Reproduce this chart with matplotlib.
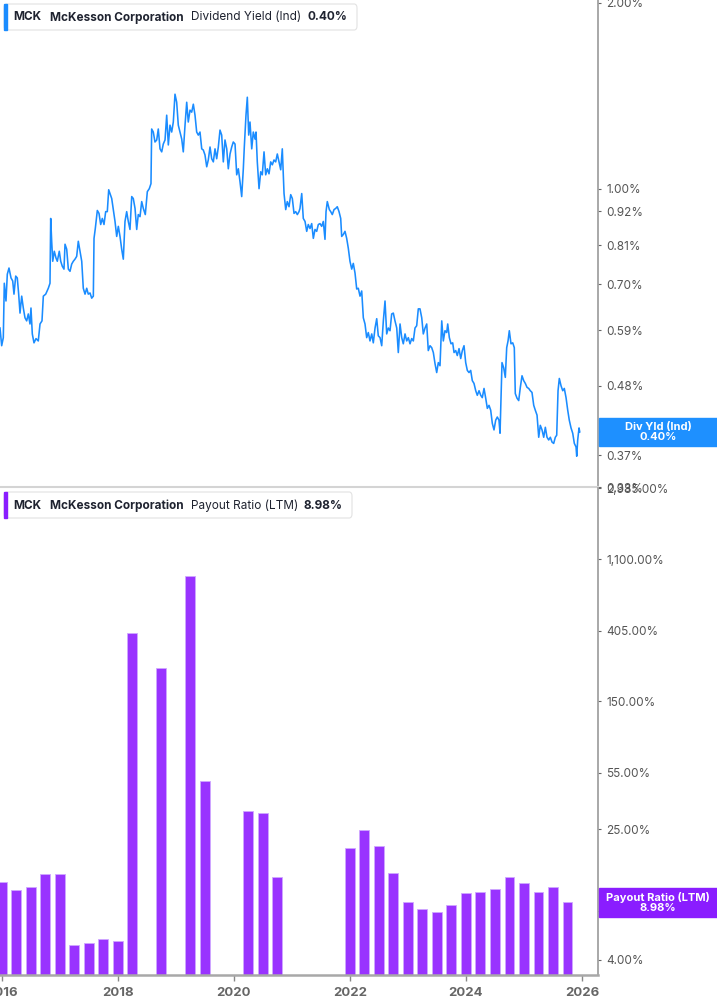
import matplotlib
matplotlib.use("Agg")
import matplotlib.pyplot as plt
import numpy as np
from matplotlib.patches import FancyBboxPatch, Rectangle
from matplotlib.ticker import FixedLocator, FixedFormatter, NullLocator

plt.rcParams['font.family'] = ['Inter', 'DejaVu Sans']

W, H = 717, 1005

# Dividend yield (Ind), % -- dates as decimal years
div_dates = [
    2015.966, 2015.995, 2016.023, 2016.040, 2016.069, 2016.092, 2016.121, 2016.156, 2016.185, 2016.207,
    2016.237, 2016.264, 2016.288, 2016.311, 2016.340, 2016.368, 2016.397, 2016.426, 2016.454, 2016.483,
    2016.500, 2016.523, 2016.552, 2016.587, 2016.626, 2016.656, 2016.690, 2016.713, 2016.754, 2016.799,
    2016.828, 2016.840, 2016.857, 2016.875, 2016.902, 2016.932, 2016.954, 2016.988, 2017.013, 2017.040,
    2017.069, 2017.087, 2017.116, 2017.144, 2017.173, 2017.202, 2017.230, 2017.259, 2017.288, 2017.316,
    2017.345, 2017.375, 2017.402, 2017.432, 2017.461, 2017.488, 2017.518, 2017.547, 2017.575, 2017.587,
    2017.609, 2017.644, 2017.673, 2017.702, 2017.730, 2017.759, 2017.788, 2017.816, 2017.840, 2017.863,
    2017.892, 2017.919, 2017.949, 2017.978, 2018.006, 2018.035, 2018.064, 2018.092, 2018.121, 2018.150,
    2018.178, 2018.207, 2018.237, 2018.264, 2018.294, 2018.323, 2018.350, 2018.380, 2018.409, 2018.437,
    2018.471, 2018.506, 2018.540, 2018.569, 2018.581, 2018.609, 2018.638, 2018.668, 2018.695, 2018.725,
    2018.754, 2018.781, 2018.811, 2018.840, 2018.868, 2018.897, 2018.926, 2018.954, 2018.983, 2019.012,
    2019.040, 2019.069, 2019.099, 2019.126, 2019.156, 2019.185, 2019.212, 2019.242, 2019.271, 2019.299,
    2019.328, 2019.357, 2019.385, 2019.414, 2019.444, 2019.471, 2019.500, 2019.530, 2019.557, 2019.587,
    2019.616, 2019.644, 2019.673, 2019.702, 2019.730, 2019.759, 2019.788, 2019.816, 2019.845, 2019.875,
    2019.902, 2019.932, 2019.961, 2019.988, 2020.018, 2020.047, 2020.075, 2020.104, 2020.133, 2020.161,
    2020.178, 2020.207, 2020.230, 2020.254, 2020.276, 2020.306, 2020.333, 2020.363, 2020.380, 2020.402,
    2020.432, 2020.461, 2020.488, 2020.518, 2020.547, 2020.575, 2020.604, 2020.633, 2020.661, 2020.690,
    2020.719, 2020.747, 2020.776, 2020.806, 2020.833, 2020.863, 2020.892, 2020.919, 2020.949, 2020.978,
    2021.006, 2021.035, 2021.064, 2021.092, 2021.121, 2021.138, 2021.168, 2021.195, 2021.225, 2021.254,
    2021.281, 2021.311, 2021.340, 2021.368, 2021.397, 2021.426, 2021.454, 2021.483, 2021.512, 2021.540,
    2021.569, 2021.587, 2021.609, 2021.644, 2021.668, 2021.695, 2021.725, 2021.754, 2021.781, 2021.811,
    2021.840, 2021.857, 2021.885, 2021.914, 2021.943, 2021.971, 2022.000, 2022.030, 2022.057, 2022.087,
    2022.116, 2022.143, 2022.173, 2022.202, 2022.230, 2022.259, 2022.288, 2022.316, 2022.345, 2022.375,
    2022.402, 2022.432, 2022.461, 2022.488, 2022.518, 2022.547, 2022.575, 2022.604, 2022.633, 2022.661,
    2022.690, 2022.719, 2022.747, 2022.776, 2022.806, 2022.833, 2022.863, 2022.892, 2022.919, 2022.949,
    2022.978, 2023.006, 2023.035, 2023.064, 2023.092, 2023.121, 2023.150, 2023.178, 2023.207, 2023.237,
    2023.264, 2023.294, 2023.323, 2023.350, 2023.380, 2023.409, 2023.437, 2023.466, 2023.495, 2023.523,
    2023.552, 2023.582, 2023.609, 2023.638, 2023.668, 2023.685, 2023.713, 2023.742, 2023.771, 2023.794,
    2023.823, 2023.850, 2023.880, 2023.909, 2023.937, 2023.966, 2023.995, 2024.023, 2024.052, 2024.081,
    2024.109, 2024.138, 2024.168, 2024.195, 2024.225, 2024.254, 2024.281, 2024.311, 2024.340, 2024.368,
    2024.397, 2024.426, 2024.454, 2024.483, 2024.512, 2024.540, 2024.569, 2024.587, 2024.604, 2024.621,
    2024.650, 2024.678, 2024.702, 2024.725, 2024.747, 2024.776, 2024.806, 2024.833, 2024.850, 2024.880,
    2024.909, 2024.937, 2024.966, 2024.995, 2025.023, 2025.052, 2025.081, 2025.109, 2025.138, 2025.168,
    2025.195, 2025.225, 2025.254, 2025.281, 2025.311, 2025.340, 2025.368, 2025.397, 2025.426, 2025.454,
    2025.483, 2025.512, 2025.540, 2025.564, 2025.587, 2025.609, 2025.638, 2025.668, 2025.695, 2025.725,
    2025.754, 2025.781, 2025.811, 2025.840, 2025.868, 2025.897, 2025.909, 2025.926, 2025.949, 2025.961,
]
div_yield = [
    0.595, 0.557, 0.574, 0.703, 0.658, 0.727, 0.744, 0.717, 0.709, 0.675,
    0.722, 0.717, 0.675, 0.629, 0.670, 0.641, 0.618, 0.611, 0.627, 0.604,
    0.641, 0.582, 0.563, 0.572, 0.567, 0.604, 0.611, 0.670, 0.675, 0.690,
    0.703, 0.895, 0.822, 0.763, 0.792, 0.772, 0.763, 0.792, 0.763, 0.749,
    0.741, 0.813, 0.798, 0.741, 0.735, 0.755, 0.763, 0.769, 0.777, 0.822,
    0.792, 0.763, 0.690, 0.675, 0.690, 0.675, 0.678, 0.665, 0.670, 0.831,
    0.862, 0.922, 0.912, 0.875, 0.895, 0.875, 0.918, 0.918, 0.996, 0.982,
    0.964, 0.925, 0.885, 0.837, 0.869, 0.837, 0.798, 0.769, 0.885, 0.918,
    0.885, 0.859, 0.971, 0.964, 0.929, 0.859, 0.908, 0.901, 0.953, 0.929,
    0.908, 0.989, 1.000, 1.019, 1.249, 1.235, 1.190, 1.199, 1.249, 1.160,
    1.147, 1.181, 1.199, 1.315, 1.177, 1.267, 1.235, 1.282, 1.422, 1.380,
    1.267, 1.235, 1.203, 1.147, 1.267, 1.380, 1.282, 1.340, 1.330, 1.370,
    1.315, 1.235, 1.221, 1.235, 1.160, 1.155, 1.134, 1.085, 1.113, 1.168,
    1.118, 1.105, 1.160, 1.118, 1.168, 1.244, 1.221, 1.105, 1.199, 1.160,
    1.077, 1.138, 1.168, 1.190, 1.181, 1.053, 1.077, 1.026, 0.971, 1.077,
    1.168, 1.315, 1.406, 1.221, 1.282, 1.160, 1.235, 1.203, 1.235, 1.105,
    1.000, 1.065, 1.053, 1.147, 1.053, 1.077, 1.057, 1.105, 1.093, 1.113,
    1.105, 1.138, 1.105, 1.073, 1.160, 0.982, 0.925, 0.953, 0.935, 0.978,
    0.964, 0.912, 0.918, 0.908, 0.918, 0.929, 0.982, 0.895, 0.885, 0.853,
    0.875, 0.862, 0.878, 0.831, 0.859, 0.853, 0.875, 0.878, 0.869, 0.885,
    0.828, 0.918, 0.953, 0.925, 0.918, 0.908, 0.925, 0.929, 0.935, 0.918,
    0.895, 0.837, 0.843, 0.853, 0.831, 0.801, 0.763, 0.741, 0.757, 0.730,
    0.688, 0.690, 0.670, 0.683, 0.618, 0.604, 0.574, 0.585, 0.567, 0.582,
    0.563, 0.595, 0.616, 0.578, 0.574, 0.557, 0.611, 0.658, 0.582, 0.595,
    0.589, 0.627, 0.629, 0.611, 0.595, 0.543, 0.604, 0.574, 0.561, 0.582,
    0.567, 0.574, 0.561, 0.572, 0.567, 0.595, 0.600, 0.639, 0.639, 0.618,
    0.582, 0.595, 0.604, 0.547, 0.557, 0.553, 0.543, 0.521, 0.504, 0.523,
    0.517, 0.611, 0.567, 0.589, 0.585, 0.604, 0.574, 0.561, 0.563, 0.543,
    0.547, 0.537, 0.551, 0.531, 0.547, 0.557, 0.523, 0.508, 0.504, 0.508,
    0.489, 0.484, 0.471, 0.463, 0.471, 0.463, 0.459, 0.475, 0.458, 0.441,
    0.446, 0.438, 0.417, 0.407, 0.422, 0.427, 0.422, 0.402, 0.459, 0.523,
    0.513, 0.495, 0.553, 0.567, 0.589, 0.561, 0.563, 0.553, 0.466, 0.458,
    0.454, 0.477, 0.498, 0.489, 0.484, 0.477, 0.475, 0.471, 0.468, 0.446,
    0.438, 0.430, 0.396, 0.414, 0.407, 0.396, 0.411, 0.396, 0.392, 0.396,
    0.389, 0.387, 0.396, 0.399, 0.471, 0.493, 0.480, 0.471, 0.475, 0.459,
    0.438, 0.422, 0.410, 0.402, 0.387, 0.382, 0.369, 0.392, 0.410, 0.404,
]

# Payout ratio (LTM), % per quarter; None = no bar shown
payout_dates = [
    2016.00, 2016.25, 2016.50, 2016.75, 2017.00, 2017.25, 2017.50, 2017.75,
    2018.00, 2018.25, 2018.50, 2018.75, 2019.00, 2019.25, 2019.50, 2019.75,
    2020.00, 2020.25, 2020.50, 2020.75, 2021.00, 2021.25, 2021.50, 2021.75,
    2022.00, 2022.25, 2022.50, 2022.75, 2023.00, 2023.25, 2023.50, 2023.75,
    2024.00, 2024.25, 2024.50, 2024.75, 2025.00, 2025.25, 2025.50, 2025.75,
]
payout_ratio = [
    12.0, 10.7, 11.2, 13.4, 13.4, 4.9, 5.1, 5.4,
    5.2, 390.0, None, 238.0, None, 868.0, 49.4, None,
    None, 32.4, 31.5, 12.8, None, None, None, None,
    19.3, 24.8, 19.8, 13.6, 9.0, 8.2, 7.85, 8.66,
    10.25, 10.4, 10.8, 12.8, 11.8, 10.4, 11.15, 8.98,
]

yield_ticks = [0.329, 0.37, 0.48, 0.59, 0.70, 0.81, 0.92, 1.00, 2.00]
payout_ticks = [4, 8, 25, 55, 150, 405, 1100, 2985]
year_ticks = [2016, 2018, 2020, 2022, 2024, 2026]

BLUE = '#1a8cff'
PURPLE = '#9933ff'
LABEL_PURPLE = '#8a1dff'
GREY_TXT = '#555555'


def fx(px):
    return px / W


def fy(py):
    return 1 - py / H


fig = plt.figure(figsize=(W / 100, H / 100), dpi=100)
fig.patch.set_facecolor('white')

xlim = (2015.966, 2026.276)

# ---- top panel: dividend yield line ----
ax1 = fig.add_axes([0, fy(487), 598 / W, 487 / H])
ax1.plot(div_dates, div_yield, color=BLUE, lw=1.15)
ax1.set_yscale('log')
ax1.set_ylim(0.329, 2.02)
ax1.set_xlim(*xlim)
ax1.yaxis.set_major_locator(FixedLocator(yield_ticks))
ax1.yaxis.set_major_formatter(FixedFormatter(['{:.2f}%'.format(v) for v in yield_ticks]))
ax1.yaxis.set_minor_locator(NullLocator())
ax1.xaxis.set_major_locator(NullLocator())
ax1.xaxis.set_minor_locator(NullLocator())

# ---- bottom panel: payout ratio bars ----
ax2 = fig.add_axes([0, fy(975), 598 / W, (975 - 488) / H])
bx = [d for d, v in zip(payout_dates, payout_ratio) if v is not None]
bv = [v for v in payout_ratio if v is not None]
ax2.bar(bx, [v - 1 for v in bv], bottom=1, width=0.172, color=PURPLE,
        edgecolor='#cfa8ff', linewidth=0.6)
ax2.set_yscale('log')
ax2.set_ylim(3.24, 2985)
ax2.set_xlim(*xlim)
ax2.yaxis.set_major_locator(FixedLocator(payout_ticks))
ax2.yaxis.set_major_formatter(FixedFormatter(['{:,.2f}%'.format(v) for v in payout_ticks]))
ax2.yaxis.set_minor_locator(NullLocator())
ax2.xaxis.set_major_locator(FixedLocator(year_ticks))
ax2.xaxis.set_major_formatter(FixedFormatter([str(y) for y in year_ticks]))
ax2.xaxis.set_minor_locator(NullLocator())

for ax in (ax1, ax2):
    ax.set_facecolor('none')
    ax.spines['left'].set_visible(False)
    ax.spines['top'].set_visible(False)
    ax.spines['right'].set_color('#9a9a9a')
    ax.spines['right'].set_linewidth(1.2)
    ax.yaxis.tick_right()
    ax.tick_params(axis='y', which='major', direction='out', length=2.5, width=0.8,
                   color='#666666', labelsize=8.5, labelcolor=GREY_TXT, pad=3.5)

ax1.spines['bottom'].set_color('#d4d4d4')
ax1.spines['bottom'].set_linewidth(1.5)
ax2.spines['bottom'].set_color('#a8a8a8')
ax2.spines['bottom'].set_linewidth(1.8)
ax2.tick_params(axis='x', which='major', direction='out', length=4, width=1.0,
                color='#888888', labelsize=9.5, labelcolor='#666666', pad=4.5)
for lbl in ax2.get_xticklabels():
    lbl.set_fontweight('bold')


# ---- legend boxes ----
def legend_box(top, right, bar_color, pieces):
    h = 26
    box = FancyBboxPatch((fx(4), fy(top + h)), fx(right) - fx(4), h / H,
                         boxstyle='round,pad=0,rounding_size=0.004',
                         transform=fig.transFigure, facecolor='white',
                         edgecolor='#e2e2e2', linewidth=0.8, zorder=5)
    fig.patches.append(box)
    fig.patches.append(Rectangle((fx(4), fy(top + h)), 3 / W, h / H,
                                 transform=fig.transFigure, color=bar_color, zorder=6))
    for px, txt, weight in pieces:
        fig.text(fx(px), fy(top + h / 2 + 0.5), txt, ha='left', va='center',
                 fontsize=8.5, fontweight=weight, color='#1f2330', zorder=7)


legend_box(4, 357, BLUE, [(13, 'MCK', 'bold'), (50, 'McKesson Corporation', 'bold'),
                          (191, 'Dividend Yield (Ind)', 'normal'), (308, '0.40%', 'bold')])
legend_box(492, 352, LABEL_PURPLE, [(13, 'MCK', 'bold'), (50, 'McKesson Corporation', 'bold'),
                                    (191, 'Payout Ratio (LTM)', 'normal'), (303, '8.98%', 'bold')])

# ---- last-value labels on the right axis ----
fig.patches.append(Rectangle((fx(599), fy(446)), 118 / W, 28 / H, transform=fig.transFigure,
                             color='#1e90ff', zorder=5))
fig.text(fx(658), fy(432), 'Div Yld (Ind)\n0.40%', ha='center', va='center', fontsize=8,
         fontweight='bold', color='white', linespacing=1.0, zorder=7)
fig.patches.append(Rectangle((fx(599), fy(917)), 118 / W, 29 / H, transform=fig.transFigure,
                             color=LABEL_PURPLE, zorder=5))
fig.text(fx(658), fy(902), 'Payout Ratio (LTM)\n8.98%', ha='center', va='center', fontsize=8,
         fontweight='bold', color='white', linespacing=1.0, zorder=7)

fig.savefig('out.png', dpi=100, facecolor='white')
